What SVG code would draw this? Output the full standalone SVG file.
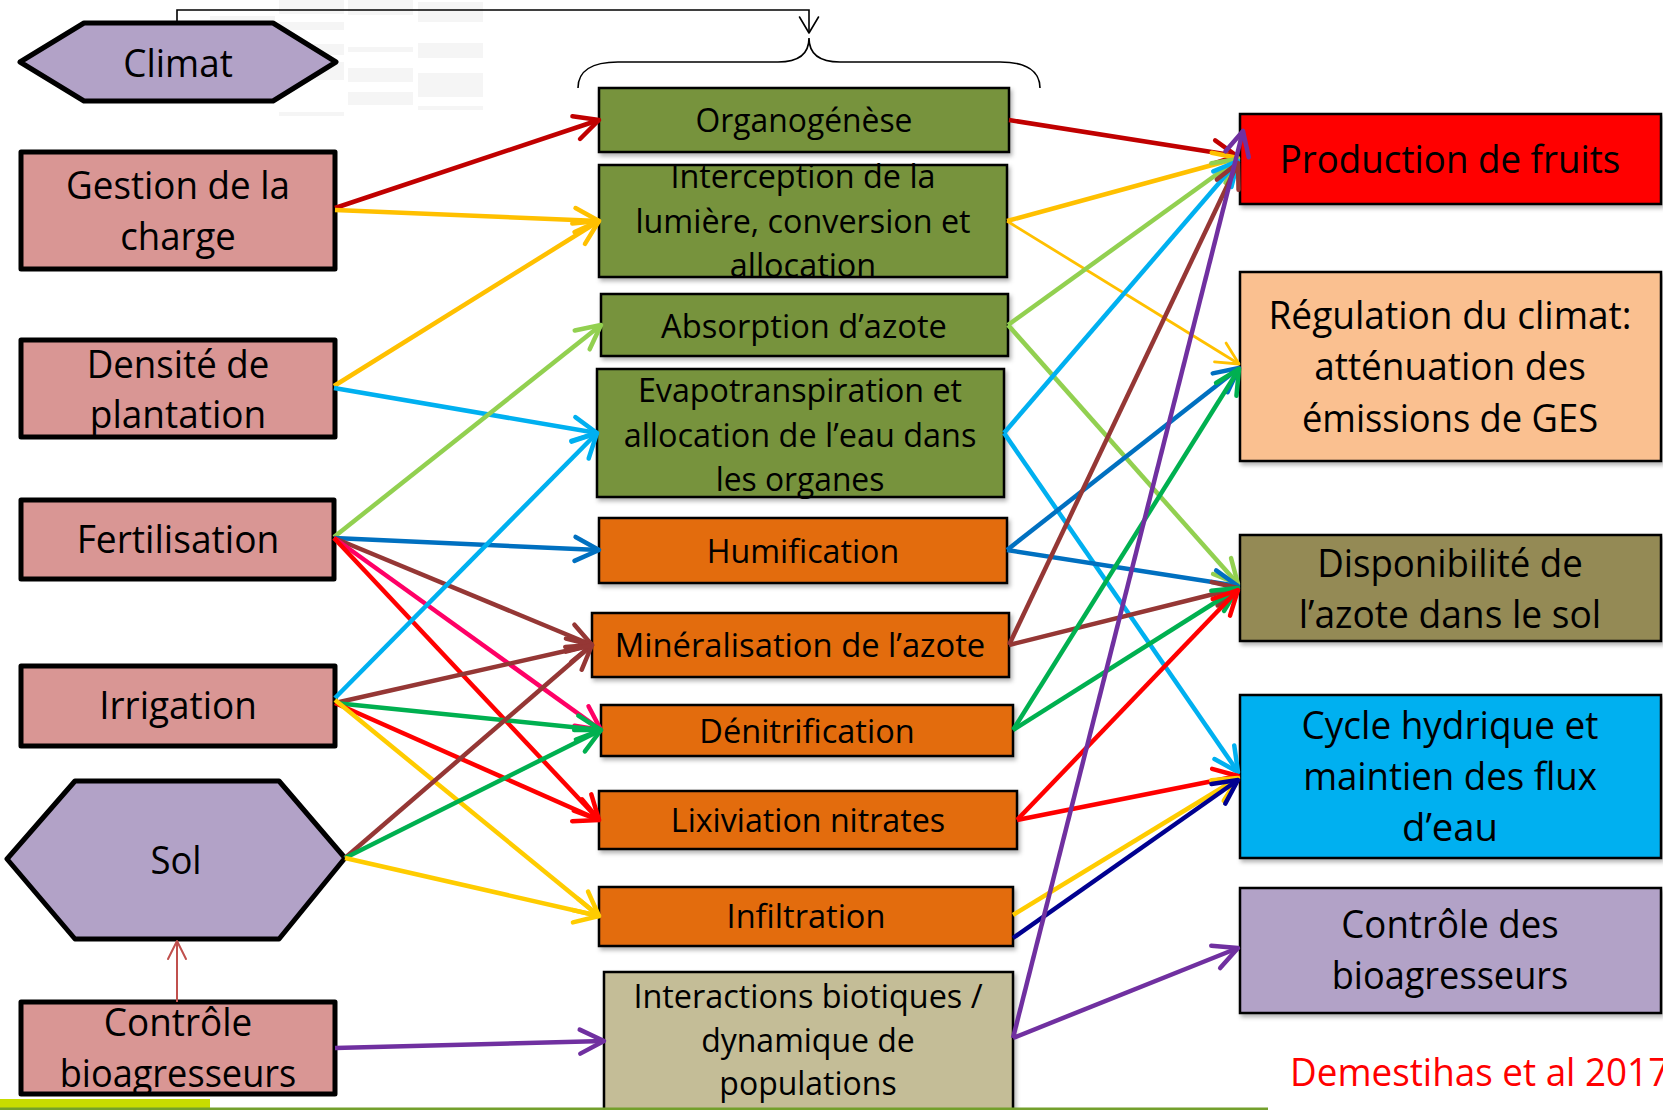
<svg xmlns="http://www.w3.org/2000/svg" width="1663" height="1110" viewBox="0 0 1663 1110">
<defs>
<style>
  text { font-family: "Open Sans", "Liberation Sans", sans-serif; fill: #000; text-anchor: middle; }
  .big { font-size: 38px; }
  .mid { font-size: 33px; }
  .src { stroke: #000; stroke-width: 5; stroke-linejoin: round; }
  .box { stroke: #000; stroke-width: 2.5; filter: url(#sh); }
  .pink { fill: #d99694; }
  .lilac { fill: #b2a2c7; }
  .olive { fill: #77933c; }
  .orange { fill: #e36c0a; }
  .tan { fill: #c4bd97; }
  .fruit { fill: #ff0000; }
  .peach { fill: #fac090; }
  .khaki { fill: #948a54; }
  .cyan { fill: #00b0f0; }
  .ghost { fill: #f5f5f5; }
  .c { fill: none; stroke-width: 4.5; }
  .darkred { stroke: #c00000; marker-end: url(#ah-darkred); }
  .gold { stroke: #ffc000; marker-end: url(#ah-gold); }
  .goldthin { stroke: #ffc000; stroke-width: 2.8; marker-end: url(#ah-goldthin); }
  .yellow { stroke: #ffcc00; marker-end: url(#ah-yellow); }
  .sky { stroke: #00b0f0; marker-end: url(#ah-sky); }
  .lime { stroke: #92d050; marker-end: url(#ah-lime); }
  .blue { stroke: #0070c0; marker-end: url(#ah-blue); }
  .brown { stroke: #953735; marker-end: url(#ah-brown); }
  .rose { stroke: #ff0066; marker-end: url(#ah-rose); }
  .red { stroke: #ff0000; marker-end: url(#ah-red); }
  .green { stroke: #00b050; marker-end: url(#ah-green); }
  .purple { stroke: #7030a0; marker-end: url(#ah-purple); }
  .navy { stroke: #000090; marker-end: url(#ah-navy); }
  .thin { stroke: #c0504d; stroke-width: 2; marker-end: url(#ah-thin); }
  .black { stroke: #000; stroke-width: 1.6; marker-end: url(#ah-black); }
  marker path { fill: none; stroke-linecap: round; stroke-linejoin: round; }
</style>
<filter id="sh" x="-5%" y="-10%" width="115%" height="130%">
  <feDropShadow dx="2" dy="3" stdDeviation="2" flood-color="#000" flood-opacity="0.3"/>
</filter>
<marker id="ah-darkred" markerUnits="userSpaceOnUse" markerWidth="30" markerHeight="30" orient="auto" overflow="visible"><path d="M-24,-12 L0,0 L-24,12" stroke="#c00000" stroke-width="4.5"/></marker>
<marker id="ah-gold" markerUnits="userSpaceOnUse" markerWidth="30" markerHeight="30" orient="auto" overflow="visible"><path d="M-24,-12 L0,0 L-24,12" stroke="#ffc000" stroke-width="4.5"/></marker>
<marker id="ah-goldthin" markerUnits="userSpaceOnUse" markerWidth="30" markerHeight="30" orient="auto" overflow="visible"><path d="M-22,-11 L0,0 L-22,11" stroke="#ffc000" stroke-width="2.8"/></marker>
<marker id="ah-yellow" markerUnits="userSpaceOnUse" markerWidth="30" markerHeight="30" orient="auto" overflow="visible"><path d="M-24,-12 L0,0 L-24,12" stroke="#ffcc00" stroke-width="4.5"/></marker>
<marker id="ah-sky" markerUnits="userSpaceOnUse" markerWidth="30" markerHeight="30" orient="auto" overflow="visible"><path d="M-24,-12 L0,0 L-24,12" stroke="#00b0f0" stroke-width="4.5"/></marker>
<marker id="ah-lime" markerUnits="userSpaceOnUse" markerWidth="30" markerHeight="30" orient="auto" overflow="visible"><path d="M-24,-12 L0,0 L-24,12" stroke="#92d050" stroke-width="4.5"/></marker>
<marker id="ah-blue" markerUnits="userSpaceOnUse" markerWidth="30" markerHeight="30" orient="auto" overflow="visible"><path d="M-24,-12 L0,0 L-24,12" stroke="#0070c0" stroke-width="4.5"/></marker>
<marker id="ah-brown" markerUnits="userSpaceOnUse" markerWidth="30" markerHeight="30" orient="auto" overflow="visible"><path d="M-24,-12 L0,0 L-24,12" stroke="#953735" stroke-width="4.5"/></marker>
<marker id="ah-rose" markerUnits="userSpaceOnUse" markerWidth="30" markerHeight="30" orient="auto" overflow="visible"><path d="M-24,-12 L0,0 L-24,12" stroke="#ff0066" stroke-width="4.5"/></marker>
<marker id="ah-red" markerUnits="userSpaceOnUse" markerWidth="30" markerHeight="30" orient="auto" overflow="visible"><path d="M-24,-12 L0,0 L-24,12" stroke="#ff0000" stroke-width="4.5"/></marker>
<marker id="ah-green" markerUnits="userSpaceOnUse" markerWidth="30" markerHeight="30" orient="auto" overflow="visible"><path d="M-24,-12 L0,0 L-24,12" stroke="#00b050" stroke-width="4.5"/></marker>
<marker id="ah-purple" markerUnits="userSpaceOnUse" markerWidth="30" markerHeight="30" orient="auto" overflow="visible"><path d="M-24,-12 L0,0 L-24,12" stroke="#7030a0" stroke-width="4.5"/></marker>
<marker id="ah-navy" markerUnits="userSpaceOnUse" markerWidth="30" markerHeight="30" orient="auto" overflow="visible"><path d="M-24,-12 L0,0 L-24,12" stroke="#000090" stroke-width="4.5"/></marker>
<marker id="ah-thin" markerUnits="userSpaceOnUse" markerWidth="30" markerHeight="30" orient="auto" overflow="visible"><path d="M-18,-9 L0,0 L-18,9" stroke="#c0504d" stroke-width="2"/></marker>
<marker id="ah-black" markerUnits="userSpaceOnUse" markerWidth="30" markerHeight="30" orient="auto" overflow="visible"><path d="M-16,-9.5 L0,0 L-16,9.5" stroke="#000" stroke-width="1.6"/></marker>
</defs>

<rect width="1663" height="1110" fill="#fff"/>

<!-- faint table remnants behind the climate node -->
<g id="ghost">
  <rect class="ghost" x="210" y="16" width="65" height="4"/>
  <rect class="ghost" x="279" y="0" width="65" height="14"/>
  <rect class="ghost" x="279" y="22" width="65" height="8"/>
  <rect class="ghost" x="279" y="44" width="65" height="11"/>
  <rect class="ghost" x="279" y="62" width="65" height="18"/>
  <rect class="ghost" x="279" y="112" width="65" height="4"/>
  <rect class="ghost" x="348" y="0" width="65" height="15"/>
  <rect class="ghost" x="348" y="47" width="65" height="5"/>
  <rect class="ghost" x="348" y="68" width="65" height="14"/>
  <rect class="ghost" x="348" y="92" width="65" height="13"/>
  <rect class="ghost" x="418" y="2" width="65" height="20"/>
  <rect class="ghost" x="418" y="43" width="65" height="15"/>
  <rect class="ghost" x="418" y="73" width="65" height="24"/>
  <rect class="ghost" x="418" y="106" width="65" height="4"/>
</g>

<!-- left column: drivers -->
<g id="climat">
  <polygon class="src lilac" points="20,62 84,23 273,23 336,62 273,101 84,101"/>
  <text class="big" x="178" y="77" textLength="109.6" lengthAdjust="spacingAndGlyphs">Climat</text>
</g>
<g id="gestion-charge">
  <rect class="src pink" x="21" y="152" width="314" height="117"/>
  <text class="big" x="178" y="199" textLength="223.9" lengthAdjust="spacingAndGlyphs">Gestion de la</text>
  <text class="big" x="178" y="250" textLength="115.6" lengthAdjust="spacingAndGlyphs">charge</text>
</g>
<g id="densite">
  <rect class="src pink" x="21" y="340" width="314" height="97"/>
  <text class="big" x="178" y="378" textLength="182.7" lengthAdjust="spacingAndGlyphs">Densité de</text>
  <text class="big" x="178" y="428" textLength="176.3" lengthAdjust="spacingAndGlyphs">plantation</text>
</g>
<g id="fertilisation">
  <rect class="src pink" x="21" y="500" width="313" height="79"/>
  <text class="big" x="178" y="553" textLength="202.7" lengthAdjust="spacingAndGlyphs">Fertilisation</text>
</g>
<g id="irrigation">
  <rect class="src pink" x="21" y="666" width="314" height="80"/>
  <text class="big" x="178" y="719" textLength="157.7" lengthAdjust="spacingAndGlyphs">Irrigation</text>
</g>
<g id="sol">
  <polygon class="src lilac" points="7,859 75,781 279,781 345,858 279,939 75,939"/>
  <text class="big" x="176" y="874" textLength="51.2" lengthAdjust="spacingAndGlyphs">Sol</text>
</g>
<g id="controle-bioagresseurs">
  <rect class="src pink" x="21" y="1002" width="314" height="92"/>
  <text class="big" x="178" y="1036" textLength="148.3" lengthAdjust="spacingAndGlyphs">Contrôle</text>
  <text class="big" x="178" y="1087" textLength="236.7" lengthAdjust="spacingAndGlyphs">bioagresseurs</text>
</g>

<!-- middle column: processes -->
<g id="organogenese">
  <rect class="box olive" x="599" y="88" width="410" height="64"/>
  <text class="mid" x="804" y="132" textLength="216.9" lengthAdjust="spacingAndGlyphs">Organogénèse</text>
</g>
<g id="interception">
  <rect class="box olive" x="599" y="165" width="408" height="112"/>
  <text class="mid" x="803" y="188" textLength="265.1" lengthAdjust="spacingAndGlyphs">Interception de la</text>
  <text class="mid" x="803" y="233" textLength="335.2" lengthAdjust="spacingAndGlyphs">lumière, conversion et</text>
  <text class="mid" x="803" y="277" textLength="146.5" lengthAdjust="spacingAndGlyphs">allocation</text>
</g>
<g id="absorption">
  <rect class="box olive" x="601" y="294" width="407" height="62"/>
  <text class="mid" x="804" y="338" textLength="285.8" lengthAdjust="spacingAndGlyphs">Absorption d’azote</text>
</g>
<g id="evapotranspiration">
  <rect class="box olive" x="597" y="369" width="407" height="128"/>
  <text class="mid" x="800" y="402" textLength="324.1" lengthAdjust="spacingAndGlyphs">Evapotranspiration et</text>
  <text class="mid" x="800" y="447" textLength="352.7" lengthAdjust="spacingAndGlyphs">allocation de l’eau dans</text>
  <text class="mid" x="800" y="491" textLength="168.7" lengthAdjust="spacingAndGlyphs">les organes</text>
</g>
<g id="humification">
  <rect class="box orange" x="599" y="518" width="408" height="65"/>
  <text class="mid" x="803" y="563" textLength="192.4" lengthAdjust="spacingAndGlyphs">Humification</text>
</g>
<g id="mineralisation">
  <rect class="box orange" x="592" y="613" width="417" height="64"/>
  <text class="mid" x="800" y="657" textLength="370.5" lengthAdjust="spacingAndGlyphs">Minéralisation de l’azote</text>
</g>
<g id="denitrification">
  <rect class="box orange" x="601" y="705" width="412" height="51"/>
  <text class="mid" x="807" y="743" textLength="215.4" lengthAdjust="spacingAndGlyphs">Dénitrification</text>
</g>
<g id="lixiviation">
  <rect class="box orange" x="599" y="791" width="418" height="58"/>
  <text class="mid" x="808" y="832" textLength="274.3" lengthAdjust="spacingAndGlyphs">Lixiviation nitrates</text>
</g>
<g id="infiltration">
  <rect class="box orange" x="599" y="887" width="414" height="59"/>
  <text class="mid" x="806" y="928" textLength="158.9" lengthAdjust="spacingAndGlyphs">Infiltration</text>
</g>
<g id="interactions">
  <rect class="box tan" x="604" y="972" width="409" height="140"/>
  <text class="mid" x="808" y="1008" textLength="349.2" lengthAdjust="spacingAndGlyphs">Interactions biotiques /</text>
  <text class="mid" x="808" y="1052" textLength="213.7" lengthAdjust="spacingAndGlyphs">dynamique de</text>
  <text class="mid" x="808" y="1095" textLength="177.3" lengthAdjust="spacingAndGlyphs">populations</text>
</g>

<!-- right column: services -->
<g id="production">
  <rect class="box fruit" x="1240" y="114" width="421" height="90"/>
  <text class="big" x="1450" y="173" textLength="340.6" lengthAdjust="spacingAndGlyphs">Production de fruits</text>
</g>
<g id="regulation">
  <rect class="box peach" x="1240" y="272" width="421" height="189"/>
  <text class="big" x="1450" y="329" textLength="363.1" lengthAdjust="spacingAndGlyphs">Régulation du climat:</text>
  <text class="big" x="1450" y="380" textLength="271.6" lengthAdjust="spacingAndGlyphs">atténuation des</text>
  <text class="big" x="1450" y="432" textLength="296.1" lengthAdjust="spacingAndGlyphs">émissions de GES</text>
</g>
<g id="disponibilite">
  <rect class="box khaki" x="1240" y="535" width="421" height="106"/>
  <text class="big" x="1450" y="577" textLength="265.7" lengthAdjust="spacingAndGlyphs">Disponibilité de</text>
  <text class="big" x="1450" y="628" textLength="302.5" lengthAdjust="spacingAndGlyphs">l’azote dans le sol</text>
</g>
<g id="cycle-hydrique">
  <rect class="box cyan" x="1240" y="695" width="421" height="163"/>
  <text class="big" x="1450" y="739" textLength="296.8" lengthAdjust="spacingAndGlyphs">Cycle hydrique et</text>
  <text class="big" x="1450" y="790" textLength="293.7" lengthAdjust="spacingAndGlyphs">maintien des flux</text>
  <text class="big" x="1450" y="841" textLength="95.9" lengthAdjust="spacingAndGlyphs">d’eau</text>
</g>
<g id="controle-des-bioagresseurs">
  <rect class="box lilac" x="1240" y="888" width="421" height="125"/>
  <text class="big" x="1450" y="938" textLength="217.4" lengthAdjust="spacingAndGlyphs">Contrôle des</text>
  <text class="big" x="1450" y="989" textLength="236.7" lengthAdjust="spacingAndGlyphs">bioagresseurs</text>
</g>

<text class="big" x="1290" y="1086" style="fill:#ff0000;text-anchor:start" textLength="379.2" lengthAdjust="spacingAndGlyphs">Demestihas et al 2017</text>

<!-- connectors -->
<g id="connectors">
  <!-- climate to the group of processes -->
  <path d="M177,23 V10 H809 V33" fill="none" class="black"/>
  <path d="M578,88 C578,71 592,62 618,62 H778 C798,62 809,54 809,38 C809,54 820,62 840,62 H1000 C1026,62 1040,71 1040,88" fill="none" stroke="#000" stroke-width="1.6"/>

  <!-- drivers to processes -->
  <line class="c darkred" x1="335" y1="208" x2="599" y2="120"/>
  <line class="c gold" x1="335" y1="210" x2="599" y2="221"/>
  <line class="c gold" x1="334" y1="386" x2="599" y2="221"/>
  <line class="c sky" x1="334" y1="388" x2="597" y2="433"/>
  <line class="c lime" x1="334" y1="537" x2="601" y2="325"/>
  <line class="c blue" x1="334" y1="538" x2="599" y2="550"/>
  <line class="c brown" x1="334" y1="538" x2="592" y2="645"/>
  <line class="c rose" x1="334" y1="538" x2="601" y2="730"/>
  <line class="c red" x1="334" y1="538" x2="599" y2="820"/>
  <line class="c sky" x1="335" y1="698" x2="597" y2="433"/>
  <line class="c brown" x1="335" y1="703" x2="592" y2="645"/>
  <line class="c green" x1="335" y1="703" x2="601" y2="730"/>
  <line class="c red" x1="335" y1="703" x2="599" y2="820"/>
  <line class="c yellow" x1="335" y1="700" x2="599" y2="916"/>
  <line class="c brown" x1="345" y1="858" x2="592" y2="645"/>
  <line class="c green" x1="345" y1="858" x2="601" y2="730"/>
  <line class="c yellow" x1="345" y1="858" x2="599" y2="916"/>
  <line class="c purple" x1="335" y1="1048" x2="604" y2="1041"/>
  <line class="c thin" x1="177" y1="1002" x2="177" y2="941"/>

  <!-- processes to services -->
  <line class="c darkred" x1="1009" y1="120" x2="1237" y2="156"/>
  <line class="c gold" x1="1007" y1="221" x2="1238" y2="158"/>
  <line class="c goldthin" x1="1007" y1="221" x2="1239" y2="364"/>
  <line class="c lime" x1="1008" y1="325" x2="1238" y2="159"/>
  <line class="c lime" x1="1008" y1="325" x2="1238" y2="584"/>
  <line class="c sky" x1="1004" y1="433" x2="1238" y2="161"/>
  <line class="c sky" x1="1004" y1="433" x2="1238" y2="772"/>
  <line class="c blue" x1="1007" y1="550" x2="1239" y2="368"/>
  <line class="c blue" x1="1007" y1="550" x2="1238" y2="586"/>
  <line class="c brown" x1="1009" y1="645" x2="1238" y2="163"/>
  <line class="c brown" x1="1009" y1="645" x2="1238" y2="588"/>
  <line class="c green" x1="1013" y1="730" x2="1239" y2="369"/>
  <line class="c green" x1="1013" y1="730" x2="1238" y2="588"/>
  <line class="c red" x1="1017" y1="820" x2="1238" y2="590"/>
  <line class="c red" x1="1017" y1="820" x2="1238" y2="776"/>
  <line class="c yellow" x1="1013" y1="915" x2="1238" y2="778"/>
  <line class="c navy" x1="1013" y1="938" x2="1238" y2="780"/>
  <line class="c purple" x1="1013" y1="1038" x2="1243" y2="131"/>
  <line class="c purple" x1="1013" y1="1038" x2="1238" y2="948"/>
</g>

<!-- footer rules -->
<rect x="0" y="1099" width="210" height="9" fill="#c8dc00"/>
<rect x="0" y="1107.5" width="1268" height="2.5" fill="#73a02c"/>
</svg>
